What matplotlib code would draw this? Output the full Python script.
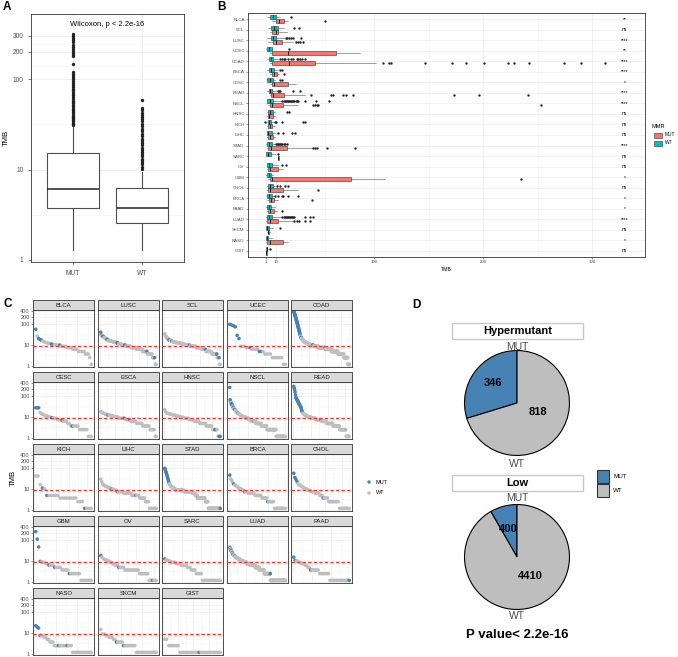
import numpy as np
import matplotlib
matplotlib.use('Agg')
import matplotlib.pyplot as plt
from matplotlib.patches import Rectangle
from matplotlib.ticker import FixedLocator, NullFormatter, MaxNLocator, AutoMinorLocator

plt.rcParams['font.family'] = ['Liberation Sans', 'DejaVu Sans']

# ---------------- data ----------------
# A: TMB by MMR status (box stats)
a_groups = ['MUT', 'WT']
a_box = [[1.28, 3.8, 6.05, 15.2, 30], [1.28, 2.54, 3.8, 6.3, 9.4]]   # lo, q1, med, q3, hi
a_mut_out = [31, 32, 33, 34, 35, 36, 37, 38, 39, 40, 42, 43, 45, 46, 48, 50, 52, 54, 56, 58,
             60, 63, 66, 69, 72, 75, 78, 82, 86, 90, 95, 100, 105, 110, 115, 121, 146,
             178, 185, 195, 205, 215, 225, 240, 255, 270, 285, 300, 313]
a_wt_out = [10.2, 10.8, 11.4, 12, 12.6, 13.2, 14, 14.8, 15.6, 16.5, 17.5, 18.5, 19.5, 20.5,
            22, 23.5, 25, 26.5, 28, 30, 32, 34, 36, 38, 40, 42.5, 45, 47.5, 59]

# B: TMB by cancer type and MMR
b_types = ['BLCA', 'SCL', 'LUSC', 'UCEC', 'COAD', 'ESCA', 'CESC', 'READ', 'NSCL', 'HNSC', 'KICH', 'LIHC',
           'STAD', 'SARC', 'OV', 'GBM', 'CHOL', 'BRCA', 'PAAD', 'LUAD', 'SKCM', 'NASO', 'GIST']
b_sig = ['**', 'ns', '****', '**', '****', '****', '*', '****', '****', 'ns', 'ns', 'ns',
         '****', 'ns', 'ns', '*', 'ns', '*', '*', '****', 'ns', '*', 'ns']
b_wt = [[1.5, 4.6, 7.0, 9.8, 14], [3.0, 5.2, 8.6, 11.6, 17], [1.5, 5.2, 7.0, 10.1, 18],
        [0.9, 2.1, 4.0, 6.1, 7.6], [1.5, 3.7, 5.5, 7.6, 12.2], [2.1, 4.0, 5.3, 8.3, 12.2],
        [1.5, 2.1, 4.6, 7.6, 9.2], [1.5, 3.7, 4.6, 6.7, 10.7], [1.5, 2.1, 4.6, 7.6, 15.3],
        [1.5, 3.0, 4.6, 7.0, 9.2], [1.8, 2.8, 3.7, 5.5, 8.0], [1.5, 2.1, 2.8, 6.1, 9.0],
        [0.9, 2.1, 3.7, 6.1, 9.2], [0.5, 0.9, 3.0, 5.5, 9.0], [1.5, 2.1, 3.7, 6.1, 12.2],
        [0.9, 2.1, 3.7, 5.2, 7.6], [1.5, 3.0, 4.6, 7.6, 9.2], [1.5, 2.1, 3.7, 6.1, 8.5],
        [0.9, 2.1, 3.7, 5.2, 9.2], [0.9, 2.1, 3.7, 6.7, 15.3], [0.5, 0.9, 2.0, 3.7, 7.6],
        [0.5, 0.9, 1.8, 3.0, 6.1], [0.5, 0.9, 1.5, 2.1, 3.0]]
b_mut = [[6.0, 10.0, 13.0, 17.4, 21], [4.6, 6.1, 9.8, 12.2, 20], [3.0, 7.6, 9.8, 15.3, 26],
         [4.6, 6.1, 21.4, 65, 87], [4.6, 6.1, 22.3, 46, 102], [4.6, 6.1, 8.3, 10.7, 12.5],
         [4.6, 6.1, 8.3, 21.4, 28], [4.6, 5.2, 7.6, 17.7, 36.7], [3.0, 4.6, 6.7, 16.2, 30.6],
         [1.5, 3.0, 4.0, 7.0, 9.2], [1.5, 3.0, 4.6, 6.1, 9.0], [1.5, 3.0, 4.6, 7.6, 9.2],
         [1.5, 3.0, 5.5, 20, 42.8], [11.5, 12.0, 12.2, 12.5, 13], [1.5, 3.0, 4.6, 11.6, 16.8],
         [3.0, 4.6, 6.1, 78.5, 110], [1.5, 3.0, 4.6, 16.8, 30.6], [1.5, 3.7, 5.5, 8.6, 12.2],
         [1.5, 3.0, 4.6, 8.3, 10.7], [0.9, 2.1, 4.6, 11.6, 26], [1.5, 2.5, 3.0, 3.7, 4.5],
         [0.9, 2.1, 4.6, 16.8, 21.4], [1.0, 1.2, 1.2, 1.5, 1.8]]
b_wt_out = [[24], [27, 31], [19, 20.5, 22, 23.5, 26, 33], [22],
            [14, 15.5, 17, 18, 21, 24, 26, 29, 30, 32, 34, 37], [14, 15.5], [14, 16],
            [11.6, 12.8, 13.8, 26, 32],
            [16, 17, 18, 19, 20, 21, 22, 23, 24, 25, 26, 27, 28, 29, 30, 37, 47, 59],
            [20, 22], [0.3, 9.5, 10.5, 16, 35, 37], [12, 16.5, 25, 27.5],
            [10, 11, 12, 13, 14, 15, 16, 17, 18, 20], [12.2], [15.3, 19], [],
            [11.3, 13.5, 18.3, 20.8], [9.2, 11.6, 15.3, 16.8, 21.4, 30.6], [],
            [16, 17, 18, 19, 20, 21, 22, 23, 24, 25, 26, 27, 37, 41, 44], [13.8], [], [4.6]]
b_mut_out = [[55], [], [28, 30, 32, 35], [],
             [108, 114, 116, 147, 172, 184, 201, 223, 228, 242, 274, 290, 312],
             [17.7], [], [42, 61, 62, 72, 74, 81, 173, 196, 241], [44, 46, 47.5, 49, 253],
             [], [], [], [44, 46, 47.5, 57, 83], [], [], [235], [49], [43], [15.3],
             [27, 29, 31.5, 37, 41], [], [], []]

# C: per-sample TMB, sorted, as runs of (TMB, count, group)
c_BLCA = [(55, 1, 'M'), (26, 1, 'W'), (20, 1, 'M'), (18, 1, 'M'), (17, 1, 'M'), (15, 1, 'W'), (14, 1, 'W'),
          (13, 1, 'W'), (12.5, 1, 'W'), (12, 1, 'W'), (11.5, 1, 'W'), (11, 1, 'M'), (10.5, 1, 'M'),
          (10.2, 2, 'W'), (9.8, 2, 'W'), (9.8, 1, 'M'), (8.6, 4, 'W'), (7.4, 4, 'W'), (6.2, 4, 'W'),
          (4.9, 5, 'W'), (3.7, 3, 'W'), (2.5, 1, 'W'), (1.2, 1, 'W')]
c_LUSC = [(40, 1, 'M'), (30, 1, 'M'), (27, 2, 'W'), (25, 2, 'M'), (22, 3, 'W'), (20, 3, 'W'), (18, 2, 'M'),
          (16, 5, 'W'), (15, 4, 'W'), (14, 4, 'W'), (13, 4, 'W'), (12.3, 3, 'M'), (11, 6, 'W'), (9.8, 6, 'W'),
          (9.8, 2, 'M'), (8.6, 10, 'W'), (7.4, 10, 'W'), (6.2, 12, 'W'), (4.9, 8, 'W'), (4.9, 1, 'M'),
          (3.7, 10, 'W'), (2.5, 4, 'W'), (2.5, 1, 'M'), (1.2, 3, 'W')]
c_SCL = [(34, 1, 'W'), (28, 1, 'W'), (24, 2, 'W'), (20, 3, 'W'), (17, 2, 'M'), (16, 3, 'W'), (15, 1, 'M'),
         (14, 5, 'W'), (13, 5, 'W'), (12.3, 5, 'W'), (11, 6, 'W'), (9.8, 8, 'W'), (9.8, 1, 'M'), (8.6, 10, 'W'),
         (7.4, 10, 'W'), (6.2, 6, 'W'), (6.2, 1, 'M'), (4.9, 10, 'W'), (3.7, 8, 'W'), (3.7, 1, 'M'),
         (2.5, 3, 'W'), (2.5, 1, 'M'), (1.2, 2, 'W')]
c_UCEC = [(95, 1, 'M'), (88, 1, 'M'), (80, 1, 'M'), (72, 1, 'M'), (28, 1, 'M'), (20, 1, 'M'), (8.6, 3, 'W'),
          (7.4, 2, 'W'), (7.4, 1, 'M'), (6.2, 4, 'W'), (4.9, 2, 'M'), (4.9, 1, 'W'), (3.7, 4, 'W'),
          (2.5, 6, 'W'), (1.2, 2, 'W')]
c_COAD = [(380, 2, 'M'), (330, 2, 'M'), (290, 2, 'M'), (250, 2, 'M'), (220, 2, 'M'), (190, 2, 'M'),
          (160, 2, 'M'), (140, 2, 'M'), (120, 2, 'M'), (100, 2, 'M'), (85, 2, 'M'), (70, 2, 'M'),
          (60, 2, 'M'), (50, 2, 'M'), (42, 2, 'M'), (35, 2, 'M'), (30, 2, 'M'), (25, 3, 'W'), (22, 2, 'M'),
          (20, 4, 'W'), (18, 4, 'W'), (16, 5, 'W'), (14, 6, 'W'), (13, 6, 'W'), (12.3, 8, 'W'), (11, 10, 'W'),
          (9.8, 15, 'W'), (9.8, 2, 'M'), (8.6, 25, 'W'), (7.4, 35, 'W'), (7.4, 1, 'M'), (6.2, 30, 'W'),
          (4.9, 35, 'W'), (3.7, 30, 'W'), (2.5, 20, 'W'), (1.2, 8, 'W')]
c_CESC = [(27, 3, 'M'), (16, 1, 'W'), (14, 1, 'W'), (13, 1, 'W'), (12, 1, 'W'), (11, 2, 'W'), (9.8, 2, 'W'),
          (9.2, 1, 'M'), (8.6, 3, 'W'), (7.4, 3, 'W'), (7.0, 1, 'M'), (6.2, 3, 'W'), (4.9, 2, 'W'),
          (3.7, 1, 'W'), (3.7, 1, 'M'), (3.7, 4, 'W'), (2.5, 6, 'W'), (1.2, 3, 'W')]
c_ESCA = [(18, 1, 'W'), (16, 1, 'W'), (15, 2, 'W'), (14, 1, 'W'), (13, 2, 'W'), (12, 1, 'M'), (12, 2, 'W'),
          (11, 3, 'W'), (10.5, 1, 'W'), (9.8, 4, 'W'), (8.6, 5, 'W'), (8.6, 1, 'M'), (7.4, 4, 'W'),
          (7.4, 1, 'M'), (6.2, 6, 'W'), (4.9, 6, 'W'), (3.7, 7, 'W'), (2.5, 5, 'W'), (1.2, 2, 'W')]
c_HNSC = [(22, 1, 'W'), (17, 1, 'W'), (15, 2, 'W'), (14, 2, 'W'), (13, 2, 'W'), (12, 3, 'W'), (11, 3, 'W'),
          (9.8, 4, 'W'), (8.6, 5, 'W'), (7.4, 5, 'W'), (6.2, 5, 'W'), (4.9, 6, 'W'), (3.7, 6, 'W'),
          (2.5, 2, 'W'), (2.5, 2, 'M'), (2.5, 1, 'W'), (1.2, 1, 'W'), (1.2, 2, 'M')]
c_NSCL = [(250, 1, 'M'), (65, 1, 'M'), (55, 1, 'M'), (48, 1, 'W'), (42, 2, 'M'), (36, 2, 'M'), (32, 1, 'W'),
          (28, 2, 'M'), (25, 2, 'W'), (22, 2, 'M'), (20, 2, 'W'), (18, 2, 'W'), (16, 3, 'W'), (15, 1, 'M'),
          (14, 3, 'W'), (13, 3, 'W'), (12.3, 2, 'W'), (11, 4, 'W'), (9.8, 8, 'W'), (8.6, 8, 'W'),
          (7.4, 8, 'W'), (6.2, 6, 'W'), (6.2, 1, 'M'), (6.2, 4, 'W'), (4.9, 15, 'W'), (3.7, 15, 'W'),
          (2.5, 25, 'W'), (1.2, 25, 'W')]
c_READ = [(280, 1, 'M'), (230, 1, 'M'), (200, 1, 'M'), (150, 1, 'M'), (110, 1, 'M'), (80, 2, 'M'),
          (65, 2, 'M'), (55, 2, 'M'), (45, 2, 'M'), (38, 2, 'M'), (32, 1, 'M'), (28, 2, 'M'), (22, 1, 'M'),
          (18, 2, 'M'), (15, 1, 'W'), (14, 2, 'W'), (13, 2, 'W'), (12.3, 3, 'W'), (11, 4, 'W'), (9.8, 8, 'W'),
          (8.6, 10, 'W'), (7.4, 12, 'W'), (7.4, 1, 'M'), (6.2, 12, 'W'), (4.9, 15, 'W'), (3.7, 15, 'W'),
          (2.5, 15, 'W'), (1.2, 8, 'W')]
c_KICH = [(41, 2, 'W'), (16, 1, 'W'), (11, 1, 'M'), (10, 1, 'W'), (4.9, 1, 'M'), (4.9, 5, 'W'),
          (3.7, 8, 'W'), (2.5, 3, 'W'), (1.2, 1, 'M'), (1.2, 3, 'W')]
c_LIHC = [(29, 1, 'W'), (22, 1, 'W'), (17, 1, 'W'), (15, 2, 'W'), (13, 2, 'W'), (12, 2, 'W'), (11, 2, 'W'),
          (9.8, 1, 'M'), (9.8, 2, 'W'), (8.6, 3, 'W'), (7.4, 1, 'M'), (7.4, 6, 'W'), (6.2, 8, 'W'),
          (4.9, 4, 'W'), (4.9, 1, 'M'), (4.9, 3, 'W'), (3.7, 6, 'W'), (2.5, 4, 'W'), (1.2, 8, 'W')]
c_STAD = [(95, 1, 'M'), (85, 1, 'M'), (75, 1, 'M'), (65, 1, 'M'), (58, 1, 'M'), (50, 1, 'M'), (44, 1, 'M'),
          (38, 1, 'M'), (33, 1, 'M'), (28, 1, 'M'), (24, 1, 'M'), (20, 1, 'M'), (17, 2, 'W'), (15, 2, 'W'),
          (13, 3, 'W'), (12.3, 3, 'W'), (11, 4, 'W'), (9.8, 4, 'W'), (8.6, 22, 'W'), (7.4, 22, 'W'),
          (6.2, 8, 'W'), (4.9, 6, 'W'), (3.7, 1, 'M'), (3.7, 20, 'W'), (2.5, 8, 'W'), (1.2, 32, 'W'),
          (1.2, 1, 'M')]
c_BRCA = [(45, 1, 'M'), (30, 1, 'W'), (25, 1, 'W'), (20, 1, 'W'), (17, 1, 'M'), (15, 2, 'W'), (13, 2, 'W'),
          (11, 2, 'W'), (9.8, 2, 'W'), (8.6, 2, 'W'), (7.4, 1, 'M'), (7.4, 3, 'W'), (6.2, 7, 'W'),
          (4.9, 7, 'W'), (3.7, 6, 'W'), (2.5, 1, 'M'), (2.5, 6, 'W'), (1.2, 12, 'W')]
c_CHOL = [(55, 1, 'M'), (35, 1, 'M'), (28, 1, 'M'), (22, 1, 'M'), (18, 1, 'W'), (15, 2, 'W'), (13, 2, 'W'),
          (11, 2, 'W'), (9.8, 2, 'W'), (8.6, 3, 'W'), (7.4, 4, 'W'), (6.2, 4, 'W'), (4.9, 3, 'W'),
          (3.7, 1, 'M'), (3.7, 4, 'W'), (2.5, 10, 'W'), (1.2, 10, 'W')]
c_GBM = [(245, 1, 'M'), (108, 1, 'M'), (46, 1, 'M'), (9.5, 1, 'M'), (9, 1, 'W'), (8.6, 2, 'W'), (7.4, 2, 'W'),
         (6.4, 1, 'M'), (6.2, 3, 'W'), (4.9, 1, 'M'), (4.9, 4, 'W'), (3.7, 5, 'W'), (2.5, 1, 'M'),
         (2.5, 7, 'W'), (1.2, 8, 'W')]
c_OV = [(18, 1, 'M'), (15, 1, 'W'), (13, 1, 'W'), (12, 1, 'W'), (11, 2, 'W'), (9.8, 2, 'W'), (8.6, 2, 'W'),
        (7.4, 2, 'W'), (6.2, 3, 'W'), (4.9, 1, 'M'), (4.9, 4, 'W'), (3.7, 12, 'W'), (2.5, 8, 'W'),
        (1.2, 3, 'W'), (1.2, 1, 'M'), (1.2, 3, 'W')]
c_SARC = [(12.5, 1, 'M'), (11, 2, 'W'), (10, 2, 'W'), (9.2, 1, 'W'), (8.6, 3, 'W'), (7.4, 4, 'W'),
          (6.2, 5, 'W'), (4.9, 3, 'W'), (3.7, 4, 'W'), (2.5, 5, 'W'), (1.2, 15, 'W')]
c_LUAD = [(46, 1, 'W'), (42, 1, 'M'), (38, 2, 'W'), (35, 1, 'M'), (32, 2, 'W'), (30, 2, 'M'), (28, 2, 'W'),
          (26, 2, 'W'), (24, 1, 'M'), (22, 3, 'W'), (20, 2, 'M'), (19, 3, 'W'), (18, 3, 'W'), (17, 1, 'M'),
          (16, 4, 'W'), (15, 4, 'W'), (14, 5, 'W'), (13, 5, 'W'), (12.3, 6, 'W'), (11, 8, 'W'),
          (9.8, 12, 'W'), (8.6, 15, 'W'), (7.4, 20, 'W'), (6.2, 22, 'W'), (4.9, 20, 'W'), (3.7, 25, 'W'),
          (2.5, 30, 'W'), (2.5, 1, 'M'), (1.2, 75, 'W')]
c_PAAD = [(15, 1, 'M'), (10.5, 1, 'M'), (9.8, 2, 'W'), (8.6, 2, 'W'), (7.4, 3, 'W'), (6.2, 2, 'W'),
          (4.9, 2, 'W'), (3.7, 1, 'M'), (3.7, 6, 'W'), (2.5, 8, 'W'), (1.2, 15, 'W'), (1.2, 1, 'M')]
c_NASO = [(22, 1, 'M'), (19, 1, 'M'), (17, 1, 'M'), (7.5, 1, 'M'), (7.4, 2, 'W'), (6.2, 2, 'W'), (4.9, 2, 'W'),
          (3.7, 3, 'W'), (2.5, 3, 'W'), (2.5, 1, 'M'), (2.5, 5, 'W'), (2.5, 1, 'M'), (2.5, 3, 'W'),
          (1.2, 14, 'W')]
c_SKCM = [(14.5, 1, 'W'), (9, 1, 'W'), (8.6, 2, 'W'), (7.4, 2, 'W'), (6.2, 3, 'W'), (4.9, 2, 'W'),
          (3.7, 1, 'M'), (3.7, 4, 'W'), (2.5, 1, 'M'), (2.5, 8, 'W'), (1.2, 15, 'W')]
c_GIST = [(5, 2, 'W'), (2.5, 6, 'W'), (1.2, 10, 'W'), (1.2, 1, 'M'), (1.2, 11, 'W')]

c_panels = [('BLCA', c_BLCA), ('LUSC', c_LUSC), ('SCL', c_SCL), ('UCEC', c_UCEC), ('COAD', c_COAD),
            ('CESC', c_CESC), ('ESCA', c_ESCA), ('HNSC', c_HNSC), ('NSCL', c_NSCL), ('READ', c_READ),
            ('KICH', c_KICH), ('LIHC', c_LIHC), ('STAD', c_STAD), ('BRCA', c_BRCA), ('CHOL', c_CHOL),
            ('GBM', c_GBM), ('OV', c_OV), ('SARC', c_SARC), ('LUAD', c_LUAD), ('PAAD', c_PAAD),
            ('NASO', c_NASO), ('SKCM', c_SKCM), ('GIST', c_GIST)]
c_cut = 9

# D: hypermutant / low pies
d_labels = ['MUT', 'WT']
d_hyper = [346, 818]
d_low = [400, 4410]
d_pvalue = 'P value< 2.2e-16'

# ---------------- style ----------------
col_mut, col_wt = '#F8766D', '#00BFC4'
blue, grey = '#4682B4', '#BEBEBE'
edge = '#333333'
tickc = '#4D4D4D'
gridc = '#EBEBEB'

W, H = 678, 657
fig = plt.figure(figsize=(W / 100, H / 100), dpi=100)


def rect(x0, y0, x1, y1):
    return [x0 / W, 1 - y1 / H, (x1 - x0) / W, (y1 - y0) / H]


def frame(ax):
    for s in ax.spines.values():
        s.set_color(edge)
        s.set_linewidth(0.6)
    ax.set_axisbelow(True)


# ---------------- panel A ----------------
axA = fig.add_axes(rect(31, 14, 184, 262))
statsA = []
for b, out in zip(a_box, [a_mut_out, a_wt_out]):
    statsA.append(dict(whislo=b[0], q1=b[1], med=b[2], q3=b[3], whishi=b[4], fliers=out))
axA.bxp(statsA, positions=[1, 2], widths=0.75, showcaps=False, patch_artist=True,
        boxprops=dict(facecolor='white', edgecolor='#4d4d4d', linewidth=0.8),
        medianprops=dict(color='#333333', linewidth=1.2),
        whiskerprops=dict(color='#4d4d4d', linewidth=0.8),
        flierprops=dict(marker='o', markersize=2.4, markerfacecolor='#222222', markeredgecolor='none'))
axA.set_yscale('log')
axA.set_ylim(0.95, 525)
axA.set_xlim(0.4, 2.6)
axA.yaxis.set_major_locator(FixedLocator([1, 10, 100, 200, 300]))
axA.yaxis.set_minor_locator(FixedLocator([3.16, 31.6, 141, 245]))
axA.yaxis.set_minor_formatter(NullFormatter())
axA.set_yticklabels(['1', '10', '100', '200', '300'])
axA.set_xticks([1, 2])
axA.set_xticklabels(a_groups)
axA.tick_params(labelsize=4.8, colors=tickc, length=2, width=0.5)
axA.tick_params(which='minor', length=0)
axA.grid(True, which='major', color=gridc, linewidth=0.6)
axA.grid(True, which='minor', axis='y', color='#F4F4F4', linewidth=0.4)
axA.set_ylabel('TMB', fontsize=5.5, labelpad=2)
axA.text(1.5, 400, 'Wilcoxon, p < 2.2e-16', ha='center', va='center', fontsize=5.5)
frame(axA)

# ---------------- panel B ----------------
axB = fig.add_axes(rect(248, 13, 645, 257))
n = len(b_types)
ypos = np.arange(n, 0, -1)
statsM, statsW = [], []
for i in range(n):
    m, w = b_mut[i], b_wt[i]
    statsM.append(dict(whislo=m[0], q1=m[1], med=m[2], q3=m[3], whishi=m[4], fliers=b_mut_out[i]))
    statsW.append(dict(whislo=w[0], q1=w[1], med=w[2], q3=w[3], whishi=w[4], fliers=b_wt_out[i]))
for stats, off, fc in [(statsM, -0.19, col_mut), (statsW, 0.19, col_wt)]:
    axB.bxp(stats, positions=ypos + off, widths=0.38, orientation='horizontal', showcaps=False,
            patch_artist=True,
            boxprops=dict(facecolor=fc, edgecolor='#333333', linewidth=0.4),
            medianprops=dict(color='#222222', linewidth=0.7),
            whiskerprops=dict(color='#555555', linewidth=0.4),
            flierprops=dict(marker='o', markersize=1.7, markerfacecolor='#222222', markeredgecolor='none'))
axB.set_xlim(-15.6, 348.6)
axB.set_ylim(0.4, n + 0.6)
axB.set_yticks(ypos)
axB.set_yticklabels(b_types)
axB.xaxis.set_major_locator(FixedLocator([1, 10, 100, 200, 300]))
axB.xaxis.set_minor_locator(FixedLocator([55, 150, 250]))
axB.set_xticklabels(['1', '10', '100', '200', '300'])
axB.tick_params(labelsize=3.2, colors=tickc, length=1.5, width=0.4, pad=1)
axB.tick_params(which='minor', length=0)
axB.grid(True, which='major', color=gridc, linewidth=0.5)
axB.grid(True, which='minor', axis='x', color='#F2F2F2', linewidth=0.4)
axB.set_xlabel('TMB', fontsize=3.8, labelpad=2)
for y, s in zip(ypos, b_sig):
    axB.text(330, y, s, ha='center', va='center', fontsize=3.5)
frame(axB)

# ---------------- panel C ----------------
col_x = [33, 98, 162, 227, 291]
row_y = [300, 372, 444, 516, 588]
fw, sh, ph = 61, 10, 57
ov_strips = []
for k, (name, runs) in enumerate(c_panels):
    r, c = divmod(k, 5)
    x0, y0 = col_x[c], row_y[r]
    ax = fig.add_axes(rect(x0, y0 + sh, x0 + fw, y0 + sh + ph))
    vals = np.concatenate([np.repeat(v, cnt) for v, cnt, g in runs])
    grp = np.concatenate([np.repeat(g, cnt) for v, cnt, g in runs])
    x = np.arange(1, len(vals) + 1)
    cols = np.where(grp == 'M', blue, grey)
    ax.scatter(x, vals, s=6.5, c=cols, linewidths=0, zorder=3)
    ax.axhline(c_cut, color='#FF2A2A', linestyle=(0, (3, 2)), linewidth=0.8, zorder=4)
    ax.set_yscale('log')
    ax.set_ylim(0.9, 450)
    pad = 0.05 * (len(vals) - 1)
    ax.set_xlim(1 - pad, len(vals) + pad)
    ax.xaxis.set_major_locator(MaxNLocator(4))
    ax.xaxis.set_minor_locator(AutoMinorLocator(2))
    ax.yaxis.set_major_locator(FixedLocator([1, 10, 100, 200, 400]))
    ax.yaxis.set_minor_locator(FixedLocator([3.16, 31.6, 141, 283]))
    ax.yaxis.set_minor_formatter(NullFormatter())
    ax.set_xticklabels([])
    if c == 0:
        ax.set_yticklabels(['1', '10', '100', '200', '400'])
    else:
        ax.set_yticklabels([])
    ax.tick_params(labelsize=4, colors=tickc, length=1.5, width=0.4, pad=1)
    ax.tick_params(axis='x', length=0)
    ax.tick_params(which='minor', length=0)
    if c != 0:
        ax.tick_params(axis='y', length=0)
    ax.grid(True, which='major', color=gridc, linewidth=0.5)
    ax.grid(True, which='minor', color='#F4F4F4', linewidth=0.4)
    frame(ax)
    ov_strips.append((name, x0, y0))

# ---------------- panel D ----------------
for data, top in [(d_hyper, 350), (d_low, 504)]:
    axp = fig.add_axes(rect(464, top, 570, top + 106))
    axp.pie(data, colors=[blue, grey], startangle=90, counterclock=True,
            wedgeprops=dict(edgecolor='black', linewidth=0.8))
    axp.set_xlim(-1.01, 1.01)
    axp.set_ylim(-1.01, 1.01)
    axp.set_aspect('equal')
    axp.axis('off')
    if data is d_hyper:
        axp.text(-0.45, 0.39, str(data[0]), ha='center', va='center', fontsize=8, fontweight='bold')
        axp.text(0.40, -0.18, str(data[1]), ha='center', va='center', fontsize=8, fontweight='bold')
    else:
        axp.text(-0.17, 0.53, str(data[0]), ha='center', va='center', fontsize=8, fontweight='bold')
        axp.text(0.25, -0.36, str(data[1]), ha='center', va='center', fontsize=8, fontweight='bold')

# ---------------- overlay: letters, strips, legends ----------------
ov = fig.add_axes([0, 0, 1, 1])
ov.set_xlim(0, W)
ov.set_ylim(H, 0)
ov.axis('off')

for t, x, y in [('A', 3, 7), ('B', 217, 7), ('C', 3, 304), ('D', 412, 305)]:
    ov.text(x, y, t, fontsize=8.5, fontweight='bold', ha='left', va='center')

for name, x0, y0 in ov_strips:
    ov.add_patch(Rectangle((x0, y0), fw, sh, facecolor='#D9D9D9', edgecolor=edge, linewidth=0.6))
    ov.text(x0 + fw / 2, y0 + sh / 2 + 0.3, name, ha='center', va='center', fontsize=4.3, color='#1A1A1A')
ov.text(13, 478, 'TMB', rotation=90, ha='center', va='center', fontsize=5.5)

# legend C
ov.scatter([369, 369], [482, 493], s=6, c=[blue, grey], linewidths=0)
ov.text(376, 482, 'MUT', fontsize=4, va='center')
ov.text(376, 493, 'WT', fontsize=4, va='center')

# legend B
ov.text(652, 126, 'MMR', fontsize=4, va='center')
for yy, fc, lab in [(135, col_mut, 'MUT'), (143, col_wt, 'WT')]:
    ov.add_patch(Rectangle((654, yy - 2.5), 8, 5, facecolor=fc, edgecolor='#333333', linewidth=0.4))
    ov.text(665, yy, lab, fontsize=3.5, va='center')

# panel D texts
for (y0, y1), lab in [((323, 339), 'Hypermutant'), ((475, 491), 'Low')]:
    ov.add_patch(Rectangle((452, y0), 131, y1 - y0, facecolor='white', edgecolor='#C8C8C8', linewidth=1.0))
    ov.text(517.5, (y0 + y1) / 2 + 0.5, lab, ha='center', va='center', fontsize=8, fontweight='bold')
for ym, yw in [(347, 464), (498, 616)]:
    ov.text(517, ym, d_labels[0], ha='center', va='center', fontsize=7.5, color='#4D4D4D')
    ov.text(517, yw, d_labels[1], ha='center', va='center', fontsize=7.5, color='#4D4D4D')
ov.text(517, 635, d_pvalue, ha='center', va='center', fontsize=9.5, fontweight='bold')
for yy, fc, lab in [(476, blue, 'MUT'), (490, grey, 'WT')]:
    ov.add_patch(Rectangle((597, yy - 6.5), 12, 13, facecolor=fc, edgecolor='#333333', linewidth=0.8))
    ov.text(613, yy, lab, fontsize=4.5, va='center')

fig.savefig('out.png', dpi=100)
